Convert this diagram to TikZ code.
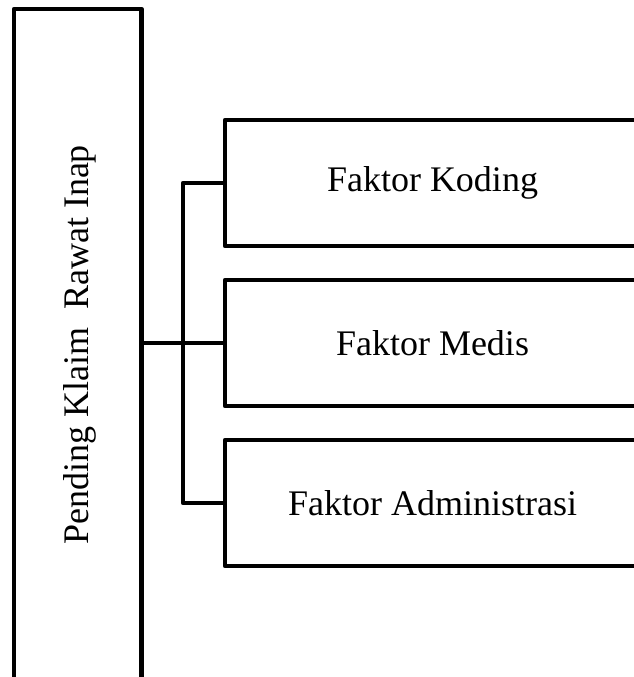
\documentclass[tikz,border=0pt]{standalone}
\usepackage{fontspec}
\setmainfont{Liberation Serif}
\usetikzlibrary{positioning}

\begin{document}
\begin{tikzpicture}[
		x=1pt, y=1pt,
		box/.style={
			rectangle, draw, line width=4.5pt, line join=round,
			inner sep=0pt, outer sep=0pt,
			align=center, font=\fontsize{36}{40}\selectfont
		},
		mainbox/.style={
			box, minimum width=127.5pt, minimum height=690pt
		},
		factorbox/.style={
			box, minimum width=415pt, minimum height=126pt
		},
		line/.style={line width=4.5pt, line join=round},
		]
		
		\clip (0,0) rectangle (634,-677);
		\useasboundingbox (0,0) rectangle (634,-677);
		
		\node[mainbox] (pending) at (77.75,-354) {};
		\node[rotate=90, font=\fontsize{36}{40}\selectfont] (pendtext) at (80,-345) {Pending Klaim\ \ Rawat Inap};
		
		%first set
		\node[factorbox] (koding) at (432.5,-183) {Faktor Koding};
		
		%2. set
		\node (medis) at (koding) [factorbox, yshift=-160pt] {Faktor Medis};
		
		%3. set
		\node (admin) at (medis) [factorbox, yshift=-160pt] {Faktor Administrasi};
		
		%connectors
		\coordinate (trunk) at ([xshift=-42pt]koding.west);
		\draw[line] (koding.west) -- (trunk) |- (admin.west);
		\draw[line] (medis.west -| pending.east) -- (medis.west);
	\end{tikzpicture}
\end{document}
